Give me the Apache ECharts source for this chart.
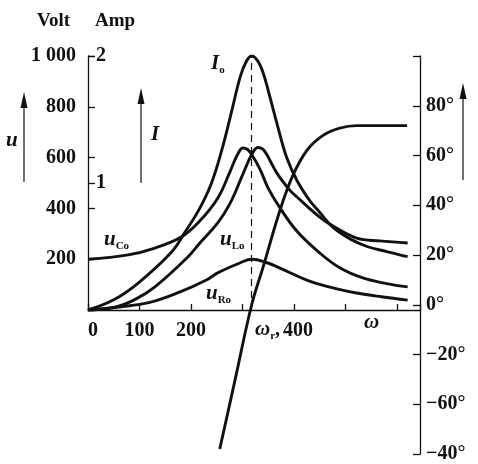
<!DOCTYPE html>
<html>
<head>
<meta charset="utf-8">
<script src="https://cdn.jsdelivr.net/npm/echarts@6/dist/echarts.min.js"></script>
<style>
  html, body { margin: 0; padding: 0; background: #fff; }
  #chart { width: 478px; height: 464px; }
</style>
</head>
<body>
<div id="chart"></div>
<script>
  // resonance ω_r
  var omegaR = 318

  // I_o (Amp)
  var i0W = [0, 50, 97, 161, 188, 217, 240, 260, 280, 296, 308, 318, 330, 340, 350, 367, 386, 406, 431, 450, 476, 509, 542, 580, 621]
  var i0A = [0, 0.08, 0.21, 0.45, 0.61, 0.80, 1.0, 1.26, 1.58, 1.84, 1.96, 2.0, 1.96, 1.87, 1.73, 1.47, 1.20, 1.02, 0.86, 0.77, 0.65, 0.56, 0.50, 0.46, 0.42]

  // u_Co (Volt)
  var uCW = [0, 78, 130, 181, 217, 252, 276, 290, 301, 310, 318, 334, 350, 373, 406, 450, 490, 534, 580, 621]
  var uCV = [200, 217, 244, 287, 350, 440, 545, 610, 638, 632, 612, 555, 480, 402, 310, 225, 165, 126, 104, 91]

  // u_Lo (Volt)
  var uLW = [0, 50, 90, 130, 194, 217, 252, 276, 301, 318, 330, 342, 367, 392, 406, 450, 476, 522, 567, 621]
  var uLV = [0, 10, 40, 91, 209, 263, 343, 420, 535, 612, 640, 628, 539, 472, 445, 366, 331, 283, 272, 264]

  // u_Ro (Volt)
  var uRW = [0, 60, 120, 180, 230, 252, 295, 318, 348, 373, 425, 470, 522, 570, 621]
  var uRV = [0, 12, 30, 72, 118, 146, 185, 200, 186, 165, 118, 90, 67, 52, 39]

  // phase (degrees)
  var phW = [256, 287, 318, 340, 373, 398, 425, 456, 489, 522, 570, 620]
  var phD = [-58, -29, 0, 15, 38, 52, 62, 68, 71, 72, 72, 72]

  // tick labels
  var xTicks = [0, 100, 200, 300, 400, 500, 600]
  var xTickLabels = ['{z|0}', '100', '200', '', '{r|400}', '', '']
  var voltTicks = [0, 200, 400, 600, 800, 1000]
  var voltTickLabels = ['', '200', '400', '600', '800', '1 000']
  var ampTicks = [0, 1, 2]
  var ampTickLabels = ['', '1', '2']
  var phaseTicks = [-60, -40, -20, 0, 20, 40, 60, 80, 100]
  var phaseTickLabels = ['−40°', '−60°', '−20°', '0°', '20°', '40°', '60°', '80°', '']

  function pairs(xs, ys) {
    return xs.map(function (x, i) { return [x, ys[i]] })
  }
  function lookup(ticks, labels) {
    return function (v) {
      var i = ticks.indexOf(v)
      return i < 0 ? '' : labels[i]
    }
  }

  var ink = '#111'
  var serif = '"Liberation Serif", "DejaVu Serif", serif'
  var numFont = { color: ink, fontFamily: serif, fontWeight: 'bold', fontSize: 20 }
  var axisLine = { show: true, onZero: false, lineStyle: { color: ink, width: 1.3 } }
  var tick = { inside: true, length: 7, lineStyle: { color: ink, width: 1.3 } }
  var curve = { color: ink, width: 2.9 }

  var rich = {
    i: { fontFamily: serif, fontStyle: 'italic', fontWeight: 'bold', fontSize: 21, color: ink },
    s: { fontFamily: serif, fontWeight: 'bold', fontSize: 11, color: ink, padding: [12, 0, 0, 0] },
    n: { fontFamily: serif, fontWeight: 'bold', fontSize: 20, color: ink }
  }

  function label(x, y, text, size) {
    return {
      type: 'text', x: x, y: y,
      style: { text: text, rich: rich, fill: ink, font: 'bold ' + (size || 18) + 'px ' + serif, verticalAlign: 'middle' }
    }
  }
  function arrow(x, yTop, yBottom) {
    return {
      type: 'group',
      children: [
        { type: 'line', shape: { x1: x, y1: yBottom, x2: x, y2: yTop + 10 }, style: { stroke: ink, lineWidth: 1.2 } },
        { type: 'polygon', shape: { points: [[x, yTop], [x - 3.5, yTop + 16], [x + 3.5, yTop + 16]] }, style: { fill: ink } }
      ]
    }
  }

  var chart = echarts.init(document.getElementById('chart'))
  chart.setOption({
    backgroundColor: '#fff',
    animation: false,
    grid: [
      { left: 88, right: 58, top: 56, bottom: 154 },
      { left: 88, right: 58, top: 56, bottom: 4 }
    ],
    xAxis: [
      {
        gridIndex: 0, type: 'value', min: 0, max: 645, interval: 100,
        axisLine: axisLine,
        axisTick: { inside: true, length: 6, lineStyle: { color: ink, width: 1.3 } },
        splitLine: { show: false },
        axisLabel: Object.assign({
          margin: 11, formatter: lookup(xTicks, xTickLabels),
          rich: {
            z: Object.assign({ padding: [0, 0, 0, 10] }, numFont),
            r: Object.assign({ padding: [0, 0, 0, 8] }, numFont)
          }
        }, numFont)
      },
      { gridIndex: 1, type: 'value', min: 0, max: 645, show: false }
    ],
    yAxis: [
      {
        gridIndex: 0, type: 'value', position: 'left', min: 0, max: 1000, interval: 200,
        axisLine: axisLine, axisTick: tick,
        splitLine: { show: false },
        axisLabel: Object.assign({ margin: 12, formatter: lookup(voltTicks, voltTickLabels) }, numFont)
      },
      {
        gridIndex: 0, type: 'value', position: 'left', offset: 0, min: 0, max: 2, interval: 1,
        axisLine: { show: false, onZero: false }, axisTick: tick,
        splitLine: { show: false },
        axisLabel: Object.assign({ inside: true, margin: 8, formatter: lookup(ampTicks, ampTickLabels) }, numFont)
      },
      {
        gridIndex: 1, type: 'value', position: 'right', min: -60, max: 100, interval: 20,
        axisLine: axisLine, axisTick: tick,
        splitLine: { show: false },
        axisLabel: Object.assign({ margin: 6, formatter: lookup(phaseTicks, phaseTickLabels) }, numFont)
      }
    ],
    series: [
      {
        name: 'I_o', type: 'line', xAxisIndex: 0, yAxisIndex: 1, smooth: 0.4, symbol: 'none',
        lineStyle: curve, data: pairs(i0W, i0A),
        markLine: {
          silent: true, symbol: 'none', label: { show: false },
          lineStyle: { color: ink, width: 1.2, type: [7, 5] },
          data: [{ xAxis: omegaR }]
        }
      },
      { name: 'u_Co', type: 'line', xAxisIndex: 0, yAxisIndex: 0, smooth: 0.4, symbol: 'none', lineStyle: curve, data: pairs(uCW, uCV) },
      { name: 'u_Lo', type: 'line', xAxisIndex: 0, yAxisIndex: 0, smooth: 0.4, symbol: 'none', lineStyle: curve, data: pairs(uLW, uLV) },
      { name: 'u_Ro', type: 'line', xAxisIndex: 0, yAxisIndex: 0, smooth: 0.4, symbol: 'none', lineStyle: curve, data: pairs(uRW, uRV) },
      { name: 'phase', type: 'line', xAxisIndex: 1, yAxisIndex: 2, smooth: 0.4, symbol: 'none', lineStyle: curve, data: pairs(phW, phD) }
    ],
    graphic: [
      label(37, 21, 'Volt', 19),
      label(95, 21, 'Amp', 19),
      label(6, 141, '{i|u}'),
      label(151, 135, '{i|I}'),
      label(211, 64, '{i|I}{s|o}'),
      label(104, 240, '{i|u}{s|Co}'),
      label(220, 240, '{i|u}{s|Lo}'),
      label(206, 294, '{i|u}{s|Ro}'),
      label(255, 330, '{i|ω}{s|r}{n|,}'),
      label(364, 323, '{i|ω}'),
      arrow(24, 92, 182),
      arrow(141, 88, 183),
      arrow(463, 83, 180)
    ]
  })
</script>
</body>
</html>
